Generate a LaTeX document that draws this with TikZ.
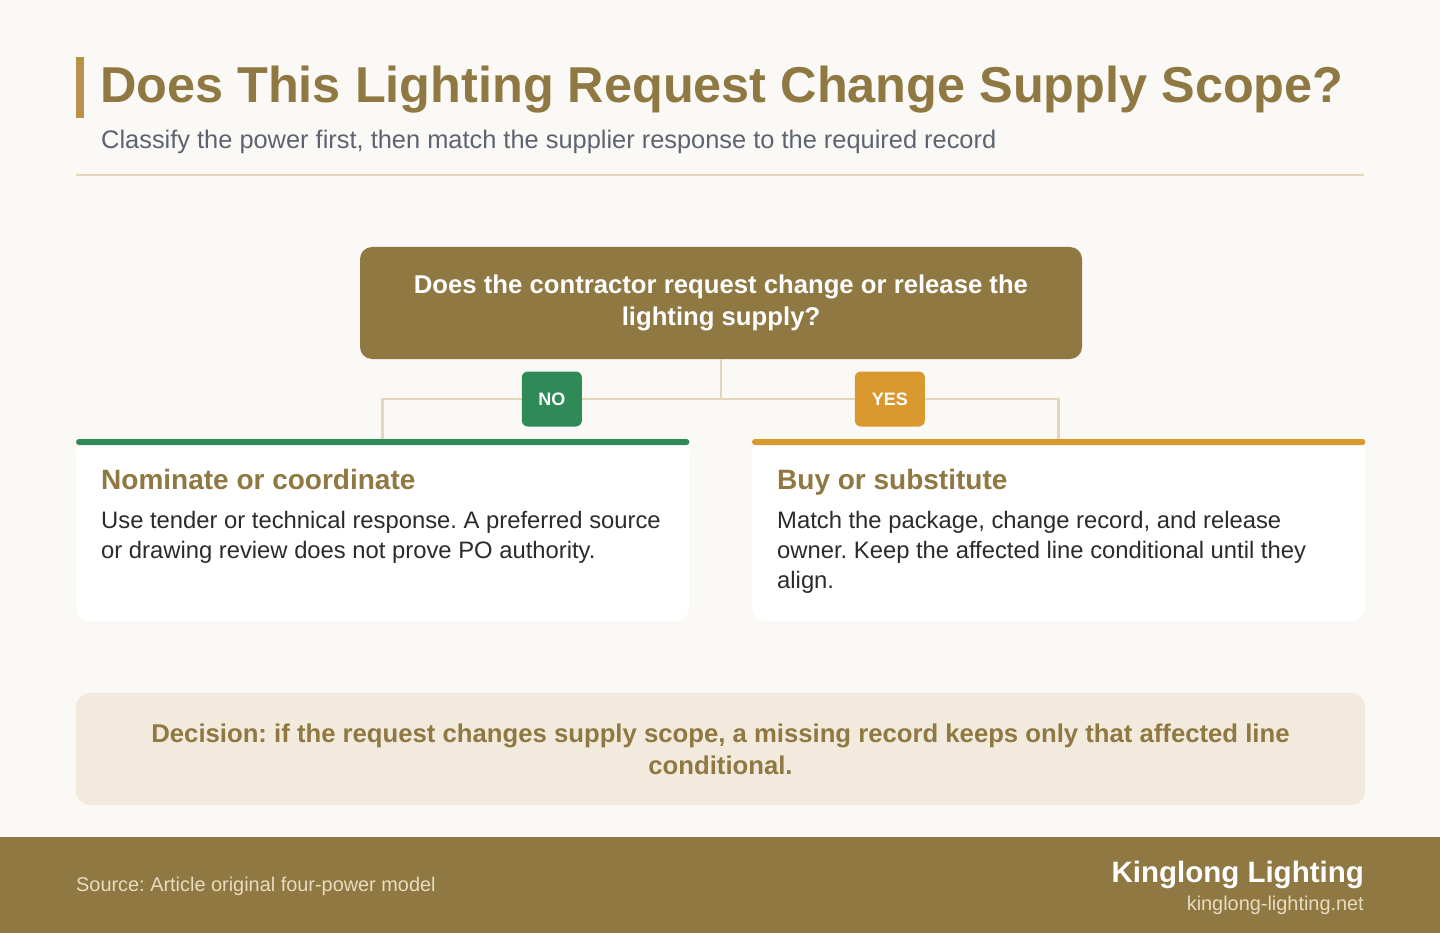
\documentclass[tikz,border=0pt]{standalone}
\usepackage{fontspec}
\setmainfont{Liberation Sans}
\usepackage{xcolor}
\usetikzlibrary{positioning}
\definecolor{KLBrown}{HTML}{8F7842}
\definecolor{KLGold}{HTML}{B8924A}
\definecolor{KLPaper}{HTML}{FAF9F5}
\definecolor{KLLine}{HTML}{E4D6B9}
\definecolor{KLGreen}{HTML}{2E8B57}
\definecolor{KLOrange}{HTML}{D9992E}
\definecolor{KLSlate}{HTML}{5D6470}
\definecolor{KLInk}{HTML}{2B2B2B}
\definecolor{KLCream}{HTML}{F2EBDD}
\definecolor{KLFoot}{HTML}{E8DCC0}
\newcommand{\fsz}[2]{\fontsize{#1}{#2}\selectfont}
\frenchspacing

\begin{document}
\begin{tikzpicture}[x=1pt, y=-1pt,
    question/.style={rectangle, rounded corners=12pt, fill=KLBrown, text=white, align=center, inner sep=0pt, minimum width=722pt, minimum height=112pt, font=\bfseries\fsz{25.7}{32}},
    badge/.style={rectangle, rounded corners=6pt, text=white, inner sep=0pt, minimum height=55pt, font=\bfseries\fsz{18}{20}},
    card/.style={rectangle, rounded corners=14pt, fill=white, inner sep=0pt, minimum width=613pt, minimum height=182pt, anchor=north west},
    cardtitle/.style={anchor=base west, inner sep=0pt, text=KLBrown, font=\bfseries\fsz{28}{32}},
    cardbody/.style={anchor=base west, inner sep=0pt, text=KLInk, align=left, font=\fsz{23.8}{30}},
    link/.style={draw=KLLine, line width=2.5pt}]

        \useasboundingbox[fill=KLPaper] (0,0) rectangle (1440,933);

        % heading
        \fill[KLGold] (76,57) rectangle (84,118);
        \node[anchor=base west, inner sep=0pt, text=KLBrown, font=\bfseries\fsz{50.4}{56}] (title) at (100,103) {Does This Lighting Request Change Supply Scope?};
        \node[anchor=base west, inner sep=0pt, text=KLSlate, font=\fsz{25.4}{30}] (subtitle) at (101,149) {Classify the power first, then match the supplier response to the required record};
        \draw[KLLine, line width=2pt] (76,175) -- (1364,175);

        % question and the two answers
        \node[question] (q) at (721,303) {Does the contractor request change or release the\\lighting supply?};

        \node[card] (cardL) at (76,439) {};
        \node[card] (cardR) at (752,439) {};

        \draw[link] (q.south) -- (q.south |- 0,399) coordinate (split);
        \draw[link] (split) -- node[badge, fill=KLGreen, minimum width=60pt] (no) {NO} (split -| cardL.north) -- (cardL.north);
        \draw[link] (split) -- node[badge, fill=KLOrange, minimum width=70pt] (yes) {YES} (split -| cardR.north) -- (cardR.north);

        \fill[KLGreen, rounded corners=3pt] (cardL.north west) rectangle ([yshift=-6pt]cardL.north east);
        \fill[KLOrange, rounded corners=3pt] (cardR.north west) rectangle ([yshift=-6pt]cardR.north east);

        % base anchor sits on the last line
        \node[cardtitle] (titleL) at ([shift={(25pt,-50pt)}]cardL.north west) {Nominate or coordinate};
        \node[cardbody] (bodyL) at ([shift={(25pt,-119pt)}]cardL.north west) {Use tender or technical response. A preferred source\\or drawing review does not prove PO authority.};

        \node[cardtitle] (titleR) at ([shift={(25pt,-50pt)}]cardR.north west) {Buy or substitute};
        \node[cardbody] (bodyR) at ([shift={(25pt,-149pt)}]cardR.north west) {Match the package, change record, and release\\owner. Keep the affected line conditional until they\\align.};

        % decision
        \node[rectangle, rounded corners=14pt, fill=KLCream, text=KLBrown, align=center, inner sep=0pt, minimum width=1289pt, minimum height=112pt, font=\bfseries\fsz{25.7}{32}] (decision) at (720.5,749) {Decision: if the request changes supply scope, a missing record keeps only that affected line\\conditional.};

        % footer
        \fill[KLBrown] (0,837) rectangle (1440,933);
        \node[anchor=base west, inner sep=0pt, text=KLFoot, font=\fsz{19.9}{24}] (source) at (76,891) {Source: Article original four-power model};
        \node[anchor=base east, inner sep=0pt, text=white, font=\bfseries\fsz{29.5}{34}] (brand) at (1364,882) {Kinglong Lighting};
        \node[anchor=base east, inner sep=0pt, text=KLFoot, font=\fsz{19.9}{24}] (site) at (1364,910) {kinglong-lighting.net};

\end{tikzpicture}
\end{document}
